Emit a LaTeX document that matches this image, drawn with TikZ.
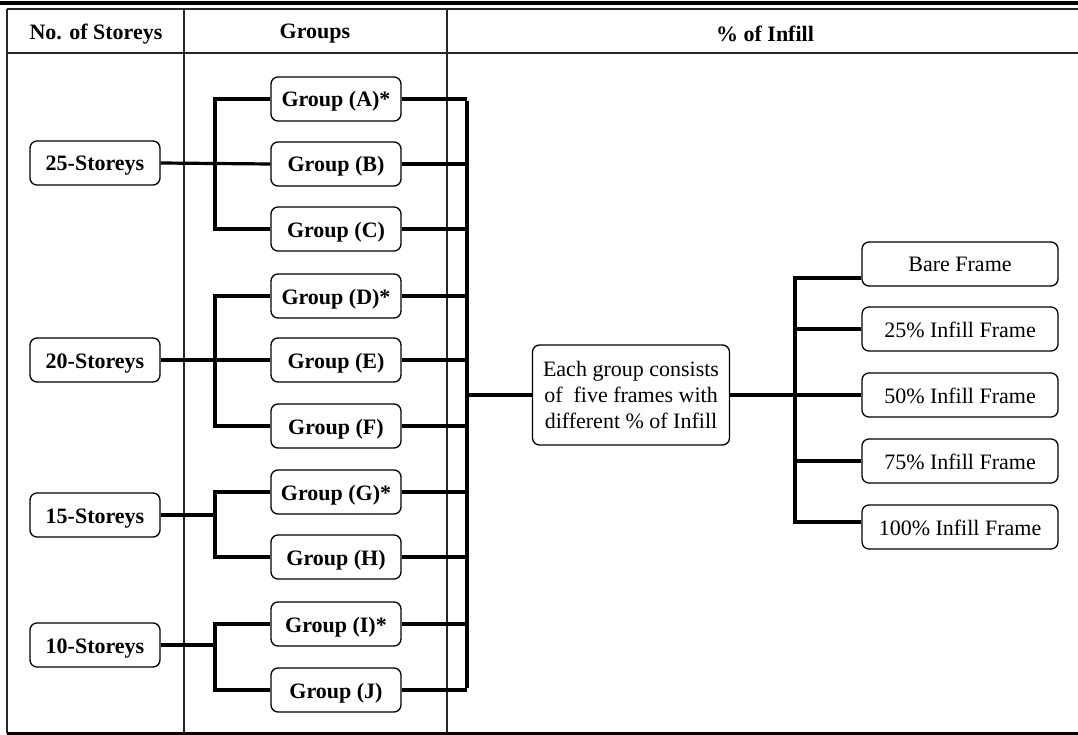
\documentclass[tikz,border=0pt]{standalone}
\usepackage{fontspec}
\setmainfont{Liberation Serif}
\begin{document}
\begin{tikzpicture}[x=1pt,y=-1pt,
  box/.style={draw,line width=1.3pt,rounded corners=7pt,inner sep=0pt,font=\fontsize{22}{26}\selectfont},
  one/.style={text height=18pt,text depth=2pt},
  sbox/.style={box,one,minimum width=130pt,minimum height=44pt,font=\fontsize{22}{26}\selectfont\bfseries},
  gbox/.style={box,one,minimum width=130pt,minimum height=44pt,font=\fontsize{22}{26}\selectfont\bfseries},
  fbox/.style={box,one,minimum width=196pt,minimum height=44pt},
  conn/.style={line width=4.5pt},
  connthin/.style={line width=3.2pt},
  rule/.style={line width=1.6pt,black!85},
  head/.style={font=\fontsize{22}{26}\selectfont\bfseries}]
\useasboundingbox (0,0) rectangle (1078,735);
% table
\draw[line width=4pt] (0,3) -- (1078,3);
\draw[rule] (7,9) -- (1078,9);
\draw[rule] (7,53) -- (1078,53);
\draw[rule] (7,9) -- (7,733);
\draw[rule] (184,9) -- (184,733);
\draw[rule] (447,9) -- (447,733);
\draw[line width=3pt] (7,733) -- (1078,733);
\node[head] (h1) at (96,34) {No. of Storeys};
\node[head] (h2) at (315,34) {Groups};
\node[head] (h3) at (765,34) {\% of Infill};
% coordinates
\coordinate (bx) at (215,0);
\coordinate (rx) at (467,0);
\coordinate (fx) at (795,0);
% storeys
\node[sbox] (s25) at (95,163) {25-Storeys};
\node[sbox] (s20) at (95,360) {20-Storeys};
\node[sbox] (s15) at (95,515) {15-Storeys};
\node[sbox] (s10) at (95,645) {10-Storeys};
% groups
\node[gbox] (gA) at (336,99) {Group (A)*};
\node[gbox] (gB) at (336,164) {Group (B)};
\node[gbox] (gC) at (336,229) {Group (C)};
\node[gbox] (gD) at (336,296) {Group (D)*};
\node[gbox] (gE) at (336,360) {Group (E)};
\node[gbox] (gF) at (336,426) {Group (F)};
\node[gbox] (gG) at (336,492) {Group (G)*};
\node[gbox] (gH) at (336,557) {Group (H)};
\node[gbox] (gI) at (336,624) {Group (I)*};
\node[gbox] (gJ) at (336,690) {Group (J)};
% centre
\node[box,minimum width=197pt,minimum height=100pt,align=center,font=\fontsize{22}{26}\selectfont] (c) at (631,395) {Each group consists\\of~ five frames with\\different \% of Infill};
% frames
\node[fbox] (f0) at (960,264) {Bare Frame};
\node[fbox] (f25) at (960,329) {25\% Infill Frame};
\node[fbox] (f50) at (960,395) {50\% Infill Frame};
\node[fbox] (f75) at (960,461) {75\% Infill Frame};
\node[fbox] (f100) at (960,527) {100\% Infill Frame};
% left brackets
\draw[connthin] (s25.east) -- (gB.west);
\draw[conn] (gA.west) -- (gA.west -| bx) -- (gC.west -| bx) -- (gC.west);
\draw[connthin] (s20.east) -- (gE.west);
\draw[conn] (gD.west) -- (gD.west -| bx) -- (gF.west -| bx) -- (gF.west);
\draw[connthin] (s15.east) -- (s15.east -| bx);
\draw[conn] (gG.west) -- (gG.west -| bx) -- (gH.west -| bx) -- (gH.west);
\draw[connthin] (s10.east) -- (s10.east -| bx);
\draw[conn] (gI.west) -- (gI.west -| bx) -- (gJ.west -| bx) -- (gJ.west);
% right bracket
\draw[connthin] (gA.east) -- (gA.east -| rx);
\foreach \g in {gB,gC,gD,gE,gF,gG,gH,gI,gJ}{\draw[conn] (\g.east) -- (\g.east -| rx);}
\draw[conn] ([yshift=-2pt]gA.east -| rx) -- ([yshift=2pt]gJ.east -| rx);
\draw[connthin] (c.west -| rx) -- (c.west);
% frames bracket
\draw[conn] (c.east) -- (c.east -| fx);
\draw[conn] ([yshift=-14pt]f0.west) -- ([yshift=-14pt]f0.west -| fx) -- ([yshift=5pt]f100.west -| fx) -- ([yshift=5pt]f100.west);
\draw[connthin] (f25.west) -- (f25.west -| fx);
\draw[connthin] (f50.west) -- (f50.west -| fx);
\draw[connthin] (f75.west) -- (f75.west -| fx);
\end{tikzpicture}
\end{document}
